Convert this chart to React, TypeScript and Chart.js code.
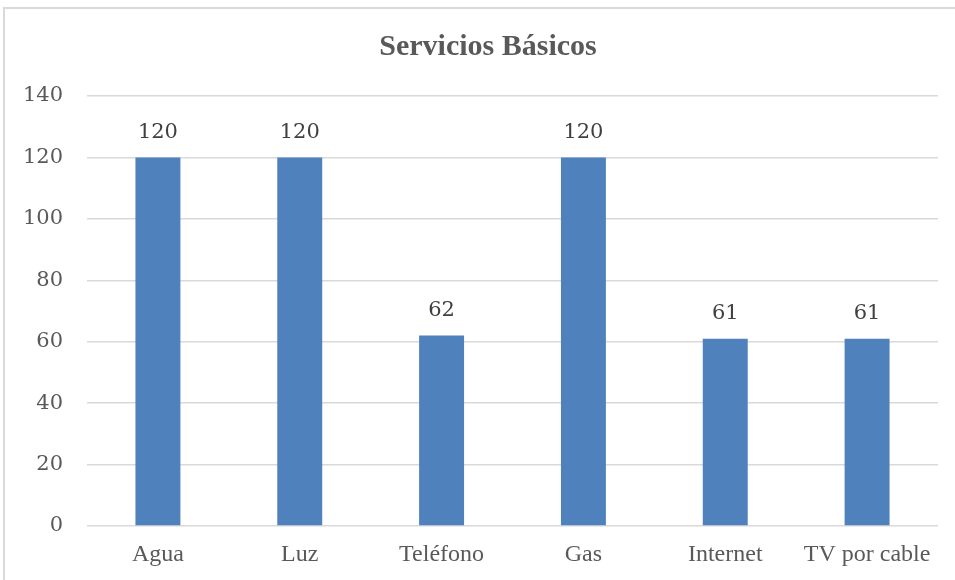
import React, { useEffect, useRef } from "react";
import { Chart, registerables } from "chart.js";

Chart.register(...registerables);

const categories = ["Agua", "Luz", "Teléfono", "Gas", "Internet", "TV por cable"];
const values = [120, 120, 62, 120, 61, 61];
const titleText = "Servicios Básicos";
const yMin = 0;
const yMax = 140;
const yStep = 20;

const framePlugin = {
  id: "frame",
  beforeDraw(chart: any) {
    const ctx = chart.ctx;
    ctx.save();
    ctx.fillStyle = "#ffffff";
    ctx.fillRect(0, 0, chart.width, chart.height);
    ctx.strokeStyle = "#d9d9d9";
    ctx.lineWidth = 2;
    ctx.beginPath();
    ctx.moveTo(4, chart.height);
    ctx.lineTo(4, 8);
    ctx.lineTo(chart.width, 8);
    ctx.stroke();
    ctx.restore();
  },
  afterDraw(chart: any) {
    const ctx = chart.ctx;
    ctx.save();
    ctx.font = "bold 30px 'Liberation Serif'";
    ctx.fillStyle = "#595959";
    ctx.textAlign = "center";
    ctx.textBaseline = "middle";
    ctx.fillText(titleText, 488, 47);
    ctx.restore();
  },
};

const labelPlugin = {
  id: "barLabels",
  afterDatasetsDraw(chart: any) {
    const ctx = chart.ctx;
    const meta = chart.getDatasetMeta(0);
    ctx.save();
    ctx.font = "21px 'DejaVu Serif'";
    ctx.fillStyle = "#404040";
    ctx.textAlign = "center";
    ctx.textBaseline = "middle";
    meta.data.forEach((bar: any, i: number) => {
      ctx.fillText(String(chart.data.datasets[0].data[i]), bar.x, bar.y - 25);
    });
    ctx.restore();
  },
};

export default function App() {
  const ref = useRef<HTMLCanvasElement>(null);
  useEffect(() => {
    if (!ref.current) return;
    const chart = new Chart(ref.current, {
      type: "bar",
      data: {
        labels: categories,
        datasets: [
          {
            data: values,
            backgroundColor: "#4F81BD",
            barPercentage: 0.317,
            categoryPercentage: 1,
          },
        ],
      },
      options: {
        animation: false,
        responsive: true,
        maintainAspectRatio: false,
        layout: { padding: { left: 0, right: 17, top: 96, bottom: 0 } },
        plugins: {
          legend: { display: false },
          tooltip: { enabled: false },
          title: { display: false },
        },
        scales: {
          x: {
            grid: { display: false, drawTicks: false },
            border: { display: false },
            ticks: {
              color: "#595959",
              font: { family: "'Liberation Serif'", size: 24 },
              padding: 14,
              maxRotation: 0,
              autoSkip: false,
            },
            afterFit(scale: any) {
              scale.height = 54;
            },
          },
          y: {
            min: yMin,
            max: yMax,
            grid: { color: "#d9d9d9", lineWidth: 1.5, drawTicks: false },
            border: { display: false },
            ticks: {
              stepSize: yStep,
              color: "#595959",
              font: { family: "'DejaVu Serif'", size: 21 },
              padding: 24,
            },
            afterFit(scale: any) {
              scale.width = 87;
            },
          },
        },
      },
      plugins: [framePlugin, labelPlugin],
    });
    return () => chart.destroy();
  }, []);
  return (
    <div style={{ position: "absolute", left: 0, top: 0, width: 955, height: 580 }}>
      <canvas ref={ref} />
    </div>
  );
}
